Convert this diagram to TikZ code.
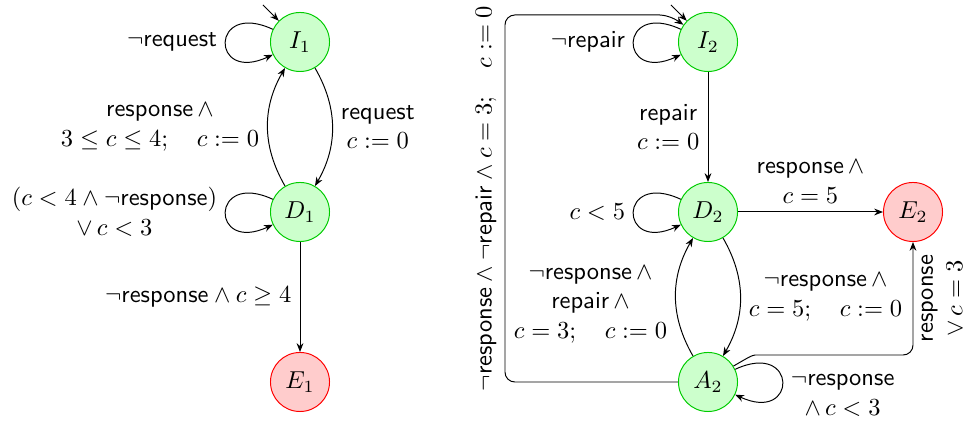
\documentclass[tikz,border=0pt]{standalone}
\usetikzlibrary{arrows.meta}
\begin{document}
\begin{tikzpicture}[x=0.4082pt,y=-0.4082pt,
  >={Stealth[length=3.6pt,width=2.8pt]},
  stategreen/.style={circle, draw=green!80!black, fill=green!20, minimum size=24.1pt, inner sep=0pt},
  statered/.style={circle, draw=red, fill=red!20, minimum size=24.1pt, inner sep=0pt},
  trans/.style={->},
  lbl/.style={align=center},
  selfloop/.style={->, loop, looseness=7, min distance=3mm}]
\useasboundingbox (0,0) rectangle (967,426);
% left automaton
\node[stategreen] (I1) at (300,42) {$I_1$};
\node[stategreen] (D1) at (300,212) {$D_1$};
\node[statered]   (E1) at (300,382) {$E_1$};
\coordinate (i1s) at (263,5);
\draw[trans] (i1s) -- (I1.135);
\path (I1) edge[selfloop, out=155, in=205] node[left] {$\neg$\textsf{request}} (I1);
\draw[trans] (I1) to[bend left=30] node[right, lbl] {\textsf{request}\\ $c:=0$} (D1);
\draw[trans] (D1) to[bend left=30] node[left, lbl] {$\textsf{response}\,\wedge$\\ $3\leq c\leq 4;\quad c:=0$} (I1);
\path (D1) edge[selfloop, out=155, in=205] node[left, lbl] {$(c<4\wedge\neg\textsf{response})$\\ $\vee\, c<3$} (D1);
\draw[trans] (D1) -- node[left] {$\neg\textsf{response}\wedge c\geq 4$} (E1);
% right automaton
\node[stategreen] (I2) at (708,42) {$I_2$};
\node[stategreen] (D2) at (708,212) {$D_2$};
\node[statered]   (E2) at (913,212) {$E_2$};
\node[stategreen] (A2) at (708,382) {$A_2$};
\coordinate (i2s) at (671,5);
\draw[trans] (i2s) -- (I2.135);
\path (I2) edge[selfloop, out=155, in=205] node[left] {$\neg$\textsf{repair}} (I2);
\draw[trans] (I2) -- node[left, lbl] {\textsf{repair}\\ $c:=0$} (D2);
\path (D2) edge[selfloop, out=155, in=205] node[left] {$c<5$} (D2);
\draw[trans] (D2) -- node[above, lbl] {$\textsf{response}\,\wedge$\\ $c=5$} (E2);
\draw[trans] (D2) to[bend left=30] node[right, lbl] {$\neg\textsf{response}\,\wedge$\\ $c=5;\quad c:=0$} (A2);
\draw[trans] (A2) to[bend left=30] node[left, lbl, yshift=-3pt] {$\neg\textsf{response}\,\wedge$\\ $\textsf{repair}\,\wedge$\\ $c=3;\quad c:=0$} (D2);
\path (A2) edge[selfloop, out=25, in=-25] node[right, lbl, yshift=-5.5pt] {$\neg$\textsf{response}\\ $\wedge\, c<3$} (A2);
\coordinate (c1) at (505,382);
\coordinate (c2) at (505,15);
\coordinate (c3) at (650,15);
\draw[trans, rounded corners=4pt] (A2) -- (c1) -- node[midway, sloped, above] {$\neg\textsf{response}\wedge\neg\textsf{repair}\wedge c=3;\quad c:=0$} (c2) -- (c3) to[out=0, in=145] (I2);
\coordinate (c4) at (765,355);
\coordinate (c5) at (913,355);
\draw[trans, rounded corners=4pt] (A2.32) to[out=30, in=180] (c4) -- (c5) -- node[midway, sloped, below, lbl] {\textsf{response}\\ $\vee\, c=3$} (E2);
\end{tikzpicture}
\end{document}
